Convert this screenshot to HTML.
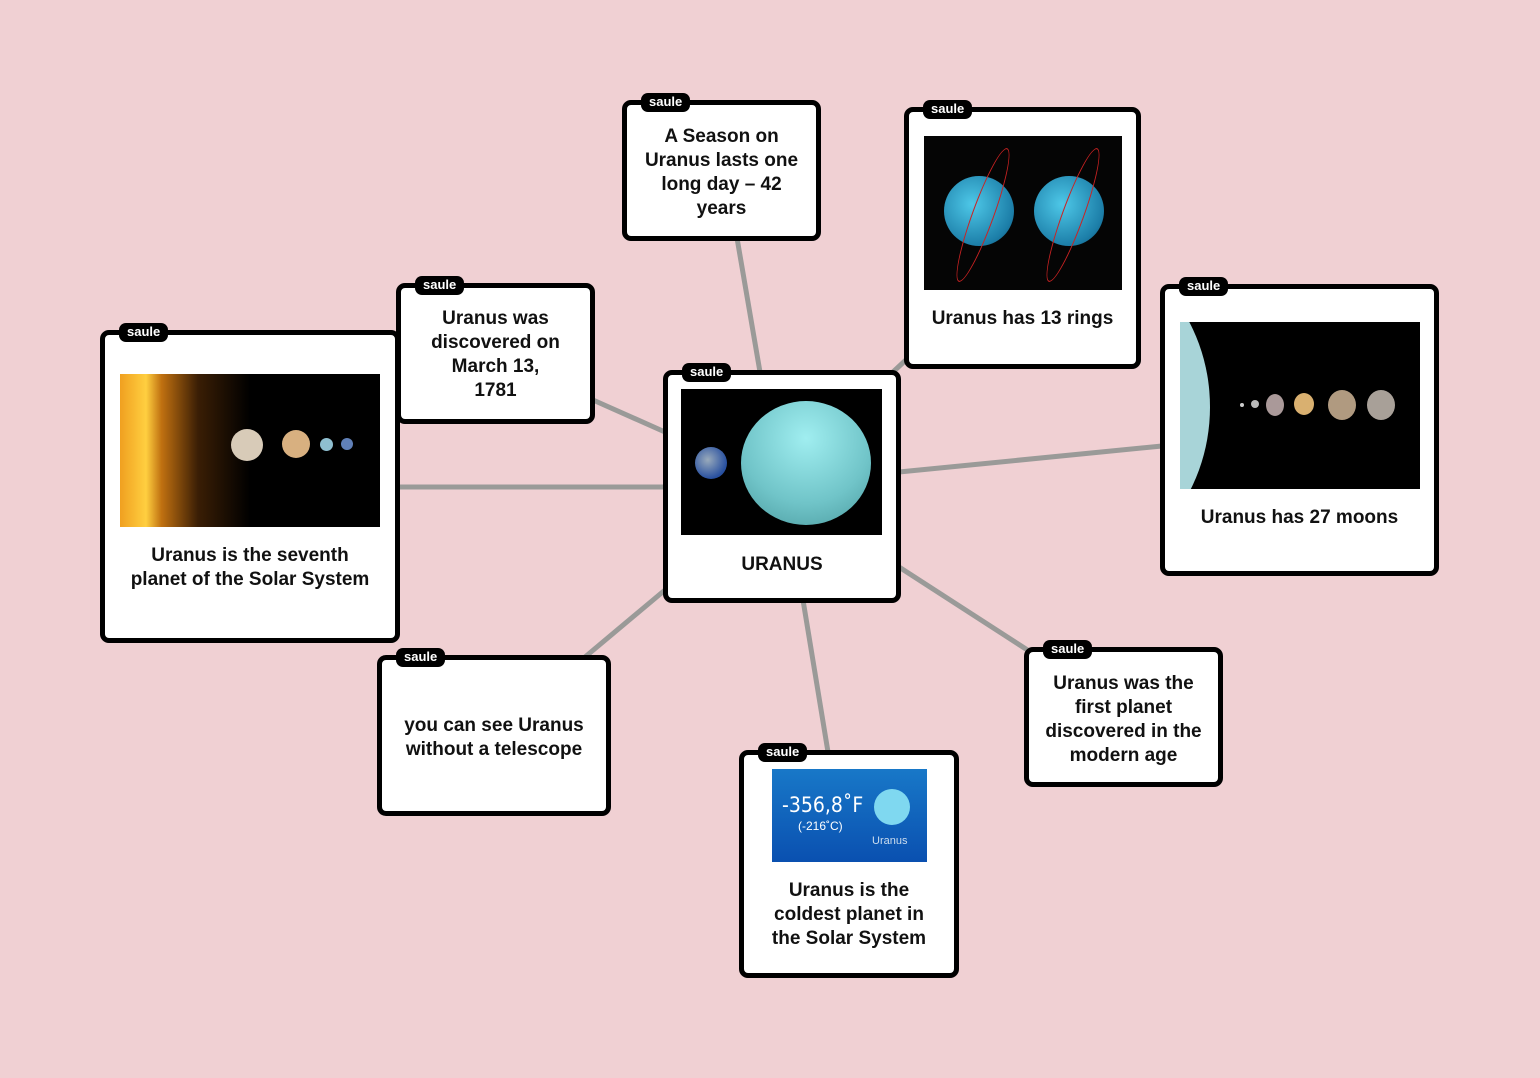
<!DOCTYPE html>
<html><head><meta charset="utf-8"><style>
html,body{margin:0;padding:0}
body{width:1540px;height:1078px;background:#f0d0d3;position:relative;overflow:hidden;font-family:"Liberation Sans",sans-serif}
svg.lines{position:absolute;left:0;top:0}
.card{position:absolute;background:#fff;border:5px solid #000;border-radius:9px;box-sizing:border-box}
.tag{position:absolute;top:-12px;left:14px;background:#000;color:#fff;font-weight:bold;font-size:13px;padding:2px 8px 3px;border-radius:7px;line-height:14px}
.txt{position:absolute;left:0;right:0;text-align:center;font-weight:bold;font-size:19px;line-height:24px;color:#111;margin-top:-3px}
.img{position:absolute;background:#000;overflow:hidden}
</style></head><body>
<svg class="lines" width="1540" height="1078"><g stroke="#9a9a98" stroke-width="5" fill="none">
<line x1="760" y1="372" x2="737" y2="238"/>
<line x1="893" y1="372" x2="908" y2="358"/>
<line x1="899" y1="472" x2="1162" y2="446"/>
<line x1="899" y1="567" x2="1029" y2="651"/>
<line x1="803" y1="600" x2="828" y2="752"/>
<line x1="665" y1="590" x2="585" y2="657"/>
<line x1="665" y1="487" x2="398" y2="487"/>
<line x1="665" y1="432" x2="593" y2="400"/>
</g></svg>

<div class="card" style="left:622px;top:100px;width:199px;height:141px"><div class="tag">saule</div>
<div class="txt" style="top:23px">A Season on<br>Uranus lasts one<br>long day – 42<br>years</div></div>

<div class="card" style="left:396px;top:283px;width:199px;height:141px"><div class="tag">saule</div>
<div class="txt" style="top:22px">Uranus was<br>discovered on<br>March 13,<br>1781</div></div>

<div class="card" style="left:904px;top:107px;width:237px;height:262px"><div class="tag">saule</div>
<div class="img" style="left:15px;top:24px;width:198px;height:154px;background:#050505">
<div style="position:absolute;left:20px;top:40px;width:70px;height:70px;border-radius:50%;background:radial-gradient(circle at 40% 40%,#4ec8e8,#1c7ea8 70%,#0d4e70)"></div>
<div style="position:absolute;left:110px;top:40px;width:70px;height:70px;border-radius:50%;background:radial-gradient(circle at 40% 40%,#4ec8e8,#1c7ea8 70%,#0d4e70)"></div>
<div style="position:absolute;left:48px;top:8px;width:20px;height:140px;border:1px solid #c22;border-radius:50%;transform:rotate(20deg)"></div>
<div style="position:absolute;left:138px;top:8px;width:20px;height:140px;border:1px solid #c22;border-radius:50%;transform:rotate(20deg)"></div>
</div>
<div class="txt" style="top:198px">Uranus has 13 rings</div></div>

<div class="card" style="left:1160px;top:284px;width:279px;height:292px"><div class="tag">saule</div>
<div class="img" style="left:15px;top:33px;width:240px;height:167px">
<div style="position:absolute;left:-260px;top:-80px;width:290px;height:330px;border-radius:50%;background:#a8d4d8"></div>
<div style="position:absolute;left:60px;top:81px;width:4px;height:4px;border-radius:50%;background:#ccc"></div>
<div style="position:absolute;left:71px;top:78px;width:8px;height:8px;border-radius:50%;background:#bbb"></div>
<div style="position:absolute;left:86px;top:72px;width:18px;height:22px;border-radius:50%;background:#a99"></div>
<div style="position:absolute;left:114px;top:71px;width:20px;height:22px;border-radius:50%;background:#d9b070"></div>
<div style="position:absolute;left:148px;top:68px;width:28px;height:30px;border-radius:50%;background:#b09a80"></div>
<div style="position:absolute;left:187px;top:68px;width:28px;height:30px;border-radius:50%;background:#a8a098"></div>
</div>
<div class="txt" style="top:220px">Uranus has 27 moons</div></div>

<div class="card" style="left:100px;top:330px;width:300px;height:313px"><div class="tag">saule</div>
<div class="img" style="left:15px;top:39px;width:260px;height:153px;background:linear-gradient(90deg,#f0a020 0%,#ffcf40 10%,#c07010 16%,#3a1e05 30%,#000 50%)">
<div style="position:absolute;left:111px;top:55px;width:32px;height:32px;border-radius:50%;background:#d8cbb8"></div>
<div style="position:absolute;left:162px;top:56px;width:28px;height:28px;border-radius:50%;background:#d8b080"></div>
<div style="position:absolute;left:200px;top:64px;width:13px;height:13px;border-radius:50%;background:#8fbfd0"></div>
<div style="position:absolute;left:221px;top:64px;width:12px;height:12px;border-radius:50%;background:#6080b8"></div>
</div>
<div class="txt" style="top:212px">Uranus is the seventh<br>planet of the Solar System</div></div>

<div class="card" style="left:663px;top:370px;width:238px;height:233px"><div class="tag">saule</div>
<div class="img" style="left:13px;top:14px;width:201px;height:146px">
<div style="position:absolute;left:14px;top:58px;width:32px;height:32px;border-radius:50%;background:radial-gradient(circle at 40% 40%,#9ab,#2850a0 70%)"></div>
<div style="position:absolute;left:60px;top:12px;width:130px;height:124px;border-radius:50%;background:radial-gradient(circle at 50% 30%,#a0eef0,#70c4c8 60%,#4a9a9e)"></div>
</div>
<div class="txt" style="top:181px">URANUS</div></div>

<div class="card" style="left:377px;top:655px;width:234px;height:161px"><div class="tag">saule</div>
<div class="txt" style="top:57px">you can see Uranus<br>without a telescope</div></div>

<div class="card" style="left:739px;top:750px;width:220px;height:228px"><div class="tag">saule</div>
<div class="img" style="left:28px;top:14px;width:155px;height:93px;background:linear-gradient(180deg,#1878c8,#0a50b0)">
<div style="position:absolute;left:10px;top:24px;color:#fff;font-size:21px;font-family:'DejaVu Sans Condensed','Liberation Sans',sans-serif">-356,8˚F</div>
<div style="position:absolute;left:26px;top:50px;color:#fff;font-size:12px">(-216˚C)</div>
<div style="position:absolute;left:102px;top:20px;width:36px;height:36px;border-radius:50%;background:#7fd8f0"></div>
<div style="position:absolute;left:100px;top:66px;color:#cde;font-size:11px">Uranus</div>
</div>
<div class="txt" style="top:127px">Uranus is the<br>coldest planet in<br>the Solar System</div></div>

<div class="card" style="left:1024px;top:647px;width:199px;height:140px"><div class="tag">saule</div>
<div class="txt" style="top:23px">Uranus was the<br>first planet<br>discovered in the<br>modern age</div></div>
</body></html>
